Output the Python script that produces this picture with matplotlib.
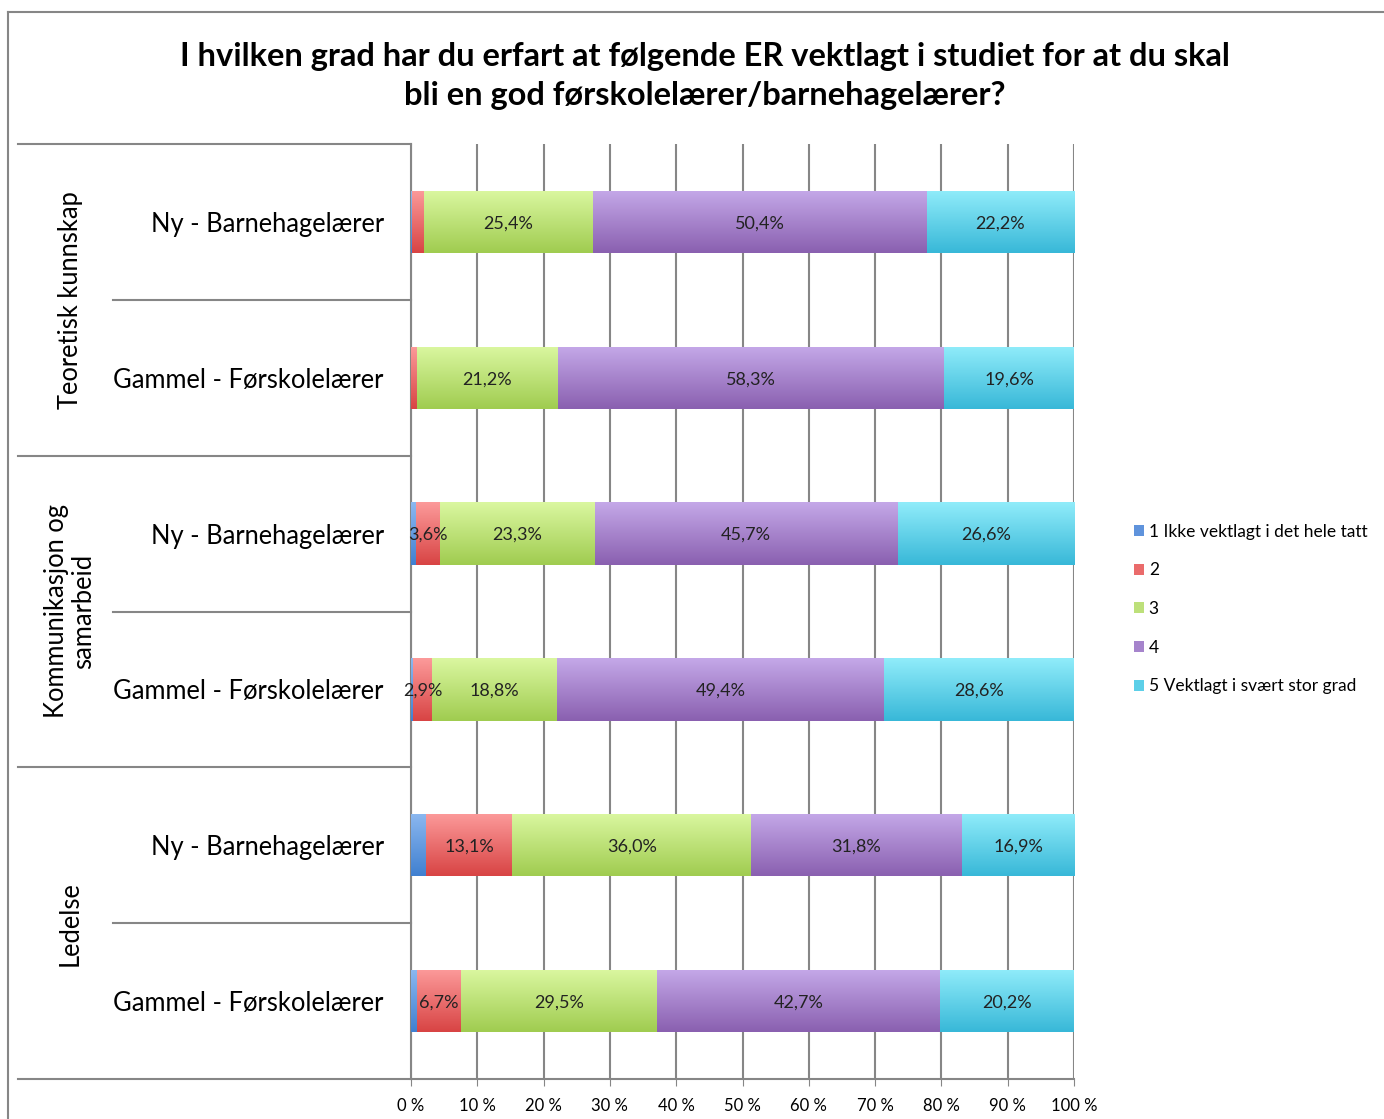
import matplotlib.pyplot as plt
import matplotlib.transforms as mtransforms
from matplotlib.lines import Line2D
from matplotlib.patches import Patch
from matplotlib.colors import to_rgb
import numpy as np

plt.rcParams['font.family'] = ['Lato', 'DejaVu Sans']

groups = ["Teoretisk kunnskap", "Kommunikasjon og\nsamarbeid", "Ledelse"]
rows = ["Ny - Barnehagelærer", "Gammel - Førskolelærer"] * 3
series = ["1 Ikke vektlagt i det hele tatt", "2", "3", "4", "5 Vektlagt i svært stor grad"]
v1 = [0.2, 0.0, 0.8, 0.3, 2.2, 0.9]
v2 = [1.8, 0.9, 3.6, 2.9, 13.1, 6.7]
v3 = [25.4, 21.2, 23.3, 18.8, 36.0, 29.5]
v4 = [50.4, 58.3, 45.7, 49.4, 31.8, 42.7]
v5 = [22.2, 19.6, 26.6, 28.6, 16.9, 20.2]
colors = ["#5f93dc", "#ea6b6b", "#bde07a", "#a684cc", "#5ccfe8"]
tops = ["#8cb8f0", "#fc9a9a", "#daf7a0", "#c4a8e8", "#90ecfa"]
bottoms = ["#4080d0", "#d84444", "#a0cc50", "#8a60b0", "#38b8d8"]

fig = plt.figure(figsize=(13.84, 11.19), dpi=100)
ax = fig.add_axes([411/1384, 1-1079/1119, 663/1384, 935/1119])

y = np.arange(len(rows)) + 0.5
left = np.zeros(len(rows))
h = 0.4
for vals, col, ct, cb in zip([v1, v2, v3, v4, v5], colors, tops, bottoms):
    vals = np.array(vals)
    bars = ax.barh(y, vals, left=left, height=h, color=col, zorder=3)
    grad = np.linspace(0, 1, 64)[:, None, None]
    img = (1 - grad) * np.array(to_rgb(ct)) + grad * np.array(to_rgb(cb))
    for b, yi, l, v in zip(bars, y, left, vals):
        if v <= 0:
            continue
        im = ax.imshow(img, extent=(l, l + v, yi + h/2, yi - h/2), aspect="auto",
                       zorder=3.5, interpolation="bilinear")
        im.set_clip_path(b)
        if v >= 2.5 and col != colors[0]:
            ax.text(l + v/2, yi, f"{v:.1f}%".replace(".", ","), ha="center",
                    va="center_baseline", fontsize=13, color="#222222", zorder=4)
    left = left + vals

ax.set_xlim(0, 100)
ax.set_ylim(6, 0)
ax.set_xticks(np.arange(0, 101, 10))
ax.set_xticklabels([f"{t} %" for t in range(0, 101, 10)], fontsize=12)
ax.set_yticks([])
ax.grid(axis="x", color="#868686", linewidth=1.5, zorder=0)
ax.tick_params(axis="x", length=5, color="#868686", pad=9)
for s in ["top", "right"]:
    ax.spines[s].set_visible(False)
for s in ["left", "bottom"]:
    ax.spines[s].set_color("#868686")
    ax.spines[s].set_linewidth(1.5)

tr = mtransforms.blended_transform_factory(ax.transAxes, ax.transData)
for yi, lab in zip(y, rows):
    ax.text(-0.041, yi, lab, transform=tr, ha="right", va="center_baseline", fontsize=18.4)
for i in range(7):
    x0 = -0.593 if i % 2 == 0 else -0.449
    ax.plot([x0, 0], [i, i], transform=tr, color="#868686", lw=1.5, clip_on=False)
for g, lab in enumerate(groups):
    ax.text(-0.514, 2*g + 1, lab, transform=tr, ha="center", va="center",
            rotation=90, fontsize=18.4, linespacing=1.1)

# outer frame
fig.add_artist(Line2D([8/1384, 8/1384], [0, 1-12/1119], color="#868686", lw=1.5))
fig.add_artist(Line2D([8/1384, 1], [1-12/1119, 1-12/1119], color="#868686", lw=1.5))

fig.text(705/1384, 1-76/1119,
         "I hvilken grad har du erfart at følgende ER vektlagt i studiet for at du skal\nbli en god førskolelærer/barnehagelærer?",
         ha="center", va="center", fontsize=23.5, fontweight="bold", linespacing=1.45)

handles = [Patch(facecolor=c) for c in colors]
fig.legend(handles, series, loc="center left", bbox_to_anchor=(1134/1384, 1-609/1119),
           frameon=False, fontsize=12.5, handlelength=0.6, handleheight=0.6,
           handletextpad=0.25, labelspacing=1.3, borderaxespad=0, borderpad=0)

fig.savefig("out.png", dpi=100)
